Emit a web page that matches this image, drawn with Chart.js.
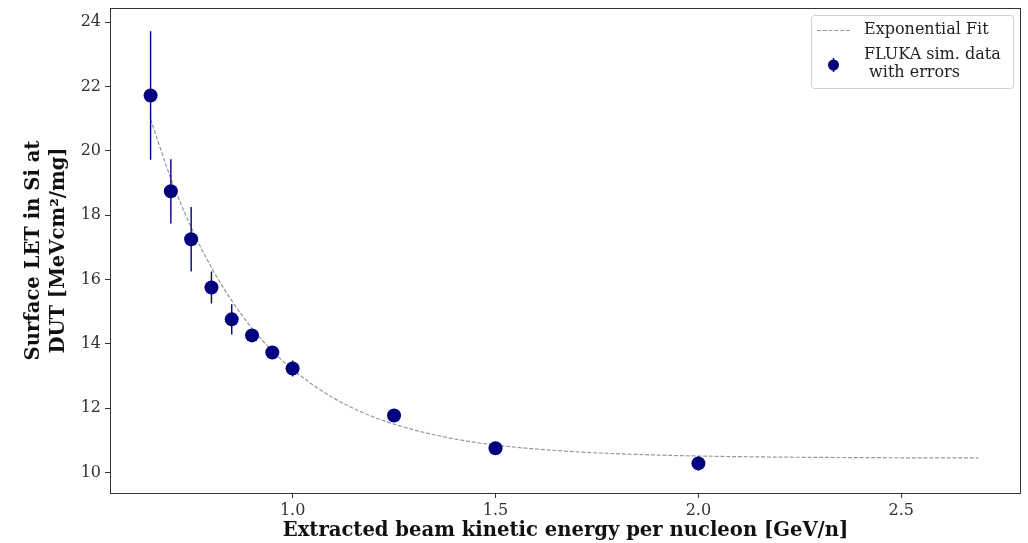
<!DOCTYPE html>
<html>
<head>
<meta charset="utf-8">
<script src="https://cdn.jsdelivr.net/npm/chart.js@4.4.0/dist/chart.umd.min.js"></script>
<style>
  html, body { margin: 0; padding: 0; background: #fff; }
  #wrap { width: 1028px; height: 543px; }
</style>
</head>
<body>
<div id="wrap"><canvas id="letChart"></canvas></div>
<script>
// Data
const energies = [0.65, 0.70, 0.75, 0.80, 0.85, 0.90, 0.95, 1.00, 1.25, 1.50, 2.00];
const letValues = [21.72, 18.74, 17.25, 15.75, 14.76, 14.26, 13.73, 13.23, 11.77, 10.75, 10.28];
const letErrors = [2.0, 1.0, 1.0, 0.5, 0.47, 0.2, 0.2, 0.25, 0.2, 0.2, 0.22];

// exponential fit curve
const fitX = [0.65, 0.70, 0.75, 0.80, 0.85, 0.90, 0.95, 1.00, 1.10, 1.20, 1.30, 1.40, 1.50, 1.70, 1.90, 2.10, 2.40, 2.69];
const fitY = [20.98, 19.14, 17.62, 16.37, 15.34, 14.48, 13.78, 13.20, 12.32, 11.72, 11.32, 11.04, 10.85, 10.64, 10.54, 10.49, 10.46, 10.45];

const xTicks = [1.0, 1.5, 2.0, 2.5];
const yTicks = [10, 12, 14, 16, 18, 20, 22, 24];

const FONT = "'DejaVu Serif', serif";
const NAVY = '#00007f';

// error bars as broken line segments
const errSegments = [];
energies.forEach((e, i) => {
    errSegments.push({ x: e, y: letValues[i] - letErrors[i] });
    errSegments.push({ x: e, y: letValues[i] + letErrors[i] });
    errSegments.push({ x: e, y: null });
});

// frame + legend box drawn inside the plot
const framePlugin = {
    id: 'frame',
    afterDraw(chart) {
        const { ctx, chartArea: a } = chart;
        ctx.save();
        ctx.strokeStyle = '#333';
        ctx.lineWidth = 1;
        ctx.strokeRect(a.left + 0.5, a.top + 0.5, a.right - a.left - 1, a.bottom - a.top);

        // legend
        const bx = 811, by = 15, bw = 202, bh = 73;
        ctx.fillStyle = 'rgba(255,255,255,0.8)';
        ctx.strokeStyle = '#d0d0d0';
        ctx.beginPath();
        ctx.roundRect(bx + 0.5, by + 0.5, bw, bh, 3);
        ctx.fill();
        ctx.stroke();

        ctx.strokeStyle = '#999';
        ctx.lineWidth = 1.2;
        ctx.setLineDash([4, 1.8]);
        ctx.beginPath();
        ctx.moveTo(817, 30.5);
        ctx.lineTo(851, 30.5);
        ctx.stroke();
        ctx.setLineDash([]);

        ctx.strokeStyle = NAVY;
        ctx.lineWidth = 1.5;
        ctx.beginPath();
        ctx.moveTo(833.5, 58);
        ctx.lineTo(833.5, 72);
        ctx.stroke();
        ctx.fillStyle = NAVY;
        ctx.beginPath();
        ctx.arc(833.5, 65, 5.5, 0, Math.PI * 2);
        ctx.fill();

        ctx.fillStyle = '#222';
        ctx.font = '16px ' + FONT;
        ctx.textBaseline = 'middle';
        ctx.fillText('Exponential Fit', 864, 30);
        ctx.fillText('FLUKA sim. data', 864, 55);
        ctx.fillText(' with errors', 864, 73);
        ctx.restore();
    }
};

new Chart(document.getElementById('letChart'), {
    type: 'scatter',
    data: {
        datasets: [
            {
                label: 'FLUKA sim. data with errors',
                data: energies.map((e, i) => ({ x: e, y: letValues[i] })),
                backgroundColor: NAVY,
                borderColor: NAVY,
                pointRadius: 7,
                pointBorderWidth: 0,
                order: 0
            },
            {
                label: 'errors',
                type: 'line',
                data: errSegments,
                borderColor: NAVY,
                borderWidth: 1.4,
                pointRadius: 0,
                spanGaps: false,
                order: 1
            },
            {
                label: 'Exponential Fit',
                type: 'line',
                data: fitX.map((x, i) => ({ x: x, y: fitY[i] })),
                borderColor: '#999',
                borderWidth: 1.2,
                borderDash: [4, 1.8],
                pointRadius: 0,
                cubicInterpolationMode: 'monotone',
                order: 2
            }
        ]
    },
    options: {
        responsive: true,
        maintainAspectRatio: false,
        animation: false,
        events: [],
        layout: { padding: { top: 8, right: 6, left: 0, bottom: 0 } },
        plugins: {
            legend: { display: false },
            tooltip: { enabled: false }
        },
        scales: {
            x: {
                type: 'linear',
                min: 0.550,
                max: 2.795,
                afterBuildTicks: s => { s.ticks = xTicks.map(v => ({ value: v })); },
                afterFit: s => { s.height = 50; s.paddingLeft = 0; s.paddingRight = 0; },
                grid: { drawOnChartArea: false, drawTicks: true, tickLength: 5, color: '#333' },
                border: { display: false },
                ticks: {
                    color: '#333',
                    font: { family: FONT, size: 16 },
                    padding: 3,
                    maxRotation: 0,
                    callback: v => v.toFixed(1)
                },
                title: {
                    display: true,
                    text: 'Extracted beam kinetic energy per nucleon [GeV/n]',
                    color: '#111',
                    font: { family: FONT, size: 19.6, weight: 'bold' },
                    padding: { top: 2, bottom: 0 }
                }
            },
            y: {
                type: 'linear',
                min: 9.36,
                max: 24.44,
                afterBuildTicks: s => { s.ticks = yTicks.map(v => ({ value: v })); },
                afterFit: s => { s.width = 110; s.paddingTop = 0; s.paddingBottom = 0; },
                grid: { drawOnChartArea: false, drawTicks: true, tickLength: 5, color: '#333' },
                border: { display: false },
                ticks: {
                    color: '#333',
                    font: { family: FONT, size: 16 },
                    padding: 4,
                    callback: v => String(v)
                },
                title: {
                    display: true,
                    text: ['Surface LET in Si at', 'DUT [MeVcm\u00b2/mg]'],
                    color: '#111',
                    font: { family: FONT, size: 19.6, weight: 'bold', lineHeight: 1.3 },
                    padding: { top: 21, bottom: 0 }
                }
            }
        }
    },
    plugins: [framePlugin]
});
</script>
</body>
</html>
